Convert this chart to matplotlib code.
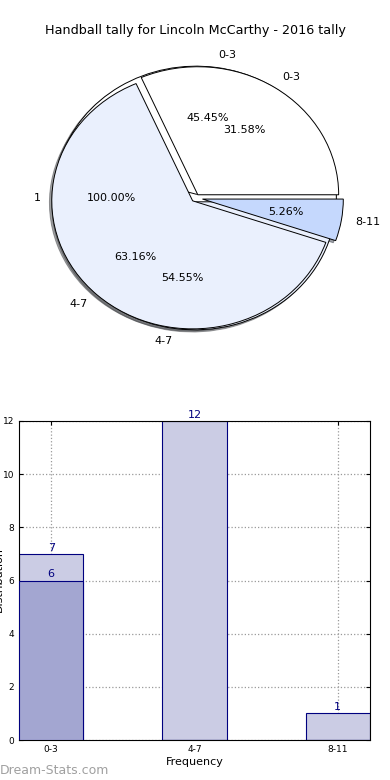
import matplotlib
matplotlib.use("Agg")
import matplotlib.pyplot as plt
import numpy as np

# pie data (three overlaid pies)
pie1_labels = ['0-3', '4-7', '8-11']
pie1_values = [6, 12, 1]
pie2_labels = ['0-3', '4-7']
pie2_values = [5, 6]
pie3_labels = ['1']
pie3_values = [1]

# bar data
categories = ['0-3', '4-7', '8-11']
tally_total = [7, 12, 1]
tally_part = [6, 0, 0]
y_ticks = [0, 2, 4, 6, 8, 10, 12]

pie_colors = ['#ffffff', '#eaf0fd', '#c5d8fd']
navy = '#00007f'

fig = plt.figure(figsize=(3.9, 7.8), dpi=100)

# --- pie part ---
ax1 = fig.add_axes([14.5 / 390, 1 - 356 / 780, 362 / 390, 316 / 780])
for vals, labs, expl in [(pie3_values, pie3_labels, [0.0]),
                         (pie2_values, pie2_labels, [0.03, 0.03]),
                         (pie1_values, pie1_labels, [0.03, 0.03, 0.05])]:
    ax1.pie(vals, labels=labs, colors=pie_colors[:len(vals)], explode=expl,
            autopct='%1.2f%%', shadow={'ox': -0.012, 'oy': -0.012},
            startangle=0,
            wedgeprops=dict(edgecolor='black', linewidth=0.7),
            textprops=dict(fontsize=8))
ax1.set_aspect('auto')
ax1.set_xlim(-1.285, 1.285)
ax1.set_ylim(-1.234, 1.234)
ax1.set_title('Handball tally for Lincoln McCarthy - 2016 tally', fontsize=9.2, pad=4)

# --- bar part ---
ax2 = fig.add_axes([19 / 390, 1 - 740 / 780, 351 / 390, 319 / 780])
x = np.arange(len(categories))
ax2.bar(x, tally_total, width=0.45, color='#cbcce4', edgecolor=navy, linewidth=0.8, zorder=2)
ax2.bar(x, tally_part, width=0.45, color='#a3a6d1', edgecolor=navy, linewidth=0.8, zorder=3)
for i in range(len(categories)):
    ax2.text(x[i], tally_total[i] + 0.05, str(tally_total[i]), ha='center', va='bottom',
             fontsize=8, color=navy, clip_on=False, zorder=4)
    if tally_part[i] > 0:
        ax2.text(x[i], tally_part[i] + 0.05, str(tally_part[i]), ha='center', va='bottom',
                 fontsize=8, color=navy, zorder=4)
ax2.set_xlim(-0.225, 2.225)
ax2.set_ylim(0, 12)
ax2.set_yticks(y_ticks)
ax2.set_xticks(x)
ax2.set_xticklabels(categories)
ax2.tick_params(direction='in', top=True, right=True, labelsize=6.5, length=3)
ax2.grid(True, linestyle=':', color='#999999', linewidth=0.9, zorder=0)
ax2.set_axisbelow(True)
ax2.set_xlabel('Frequency', fontsize=8, labelpad=2)
# y label sits mostly outside the figure, as in the original
fig.text(-0.004, 1 - 580 / 780, 'Distribution', rotation=90, ha='center', va='center', fontsize=8)

fig.text(0.0, 1 - 770 / 780, 'Dream-Stats.com', fontsize=9, color='#a0a0a0',
         ha='left', va='center')

fig.savefig('out.png', dpi=100)
